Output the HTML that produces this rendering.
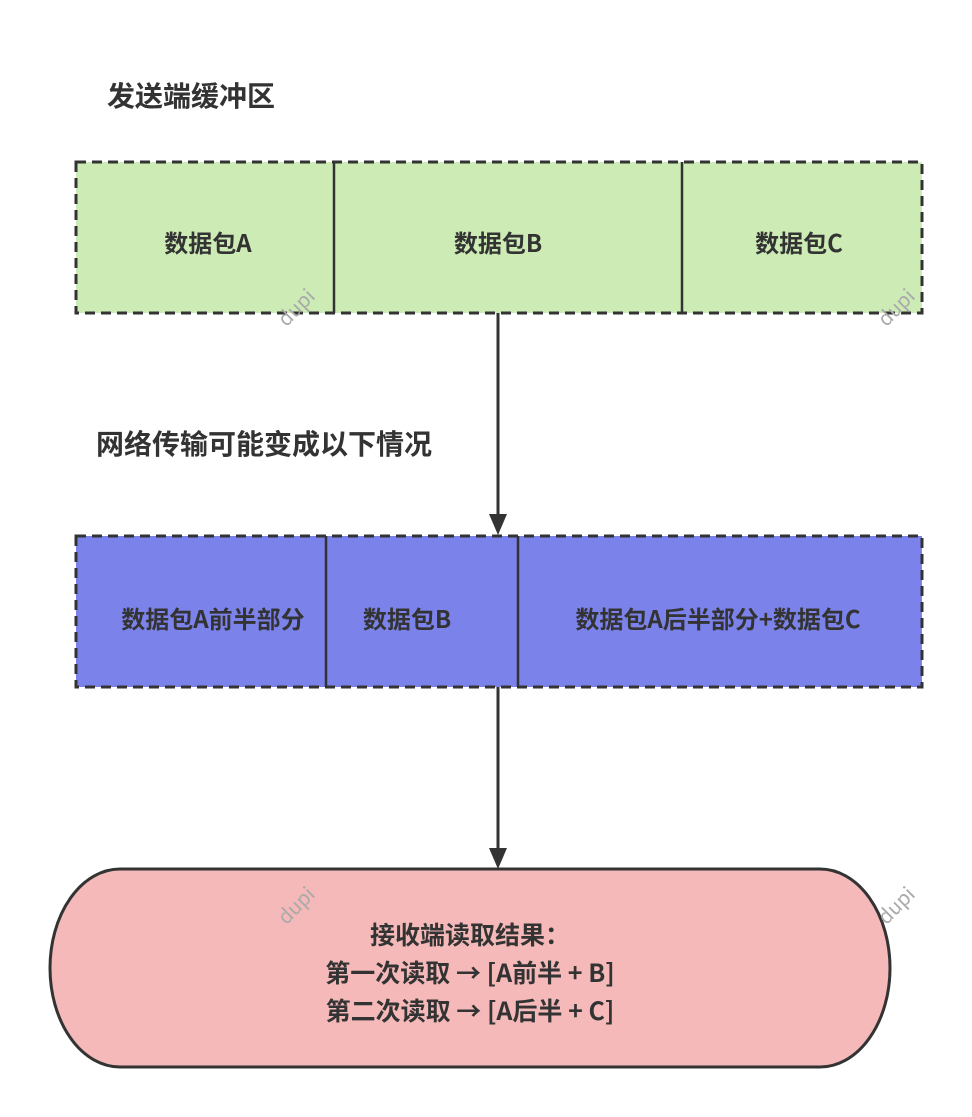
<!DOCTYPE html>
<html><head><meta charset="utf-8"><style>
body{margin:0;width:972px;height:1117px;background:#fff;position:relative;font-family:"Noto Sans CJK SC","Liberation Sans",sans-serif;font-weight:bold;color:#333;overflow:hidden}
.t{position:absolute;font-size:28px;white-space:nowrap;line-height:34px}
.c{position:absolute;font-size:24px;display:flex;align-items:center;justify-content:center;text-align:center;white-space:nowrap}
.wm{position:absolute;font-size:20px;color:#aaa;font-weight:normal;transform:rotate(-45deg)}
</style></head><body>
<svg width="972" height="1117" style="position:absolute;left:0;top:0">
<rect x="76" y="162" width="846" height="151" fill="#cdebb5" stroke="#333" stroke-width="3" stroke-dasharray="10 6"/>
<line x1="334" y1="162" x2="334" y2="313" stroke="#333" stroke-width="2.5"/>
<line x1="682" y1="162" x2="682" y2="313" stroke="#333" stroke-width="2.5"/>
<rect x="76" y="536" width="846" height="151" fill="#7b83eb" stroke="#333" stroke-width="3" stroke-dasharray="10 6"/>
<line x1="326" y1="536" x2="326" y2="687" stroke="#333" stroke-width="2.5"/>
<line x1="518" y1="536" x2="518" y2="687" stroke="#333" stroke-width="2.5"/>
<line x1="498" y1="313" x2="498" y2="516" stroke="#333" stroke-width="3"/>
<polygon points="489,514 507,514 498,535" fill="#333"/>
<line x1="498" y1="687" x2="498" y2="850" stroke="#333" stroke-width="3"/>
<polygon points="489,848 507,848 498,869" fill="#333"/>
<rect x="50" y="869" width="840" height="198" rx="70" ry="100" fill="#f4b9b8" stroke="#333" stroke-width="3"/>
</svg>
<div class="t" style="left:107px;top:78px">发送端缓冲区</div>
<div class="t" style="left:96px;top:426px">网络传输可能变成以下情况</div>
<div class="c" style="left:76px;top:166px;width:264px;height:151px">数据包A</div>
<div class="c" style="left:334px;top:166px;width:328px;height:151px">数据包B</div>
<div class="c" style="left:682px;top:166px;width:234px;height:151px">数据包C</div>
<div class="c" style="left:100px;top:542px;width:226px;height:151px">数据包A前半部分</div>
<div class="c" style="left:326px;top:542px;width:162px;height:151px">数据包B</div>
<div class="c" style="left:518px;top:542px;width:400px;height:151px">数据包A后半部分+数据包C</div>
<div class="c" style="left:50px;top:873px;width:840px;height:198px;line-height:38px;font-size:25px">接收端读取结果：<br>第一次读取 → [A前半 + B]<br>第二次读取 → [A后半 + C]</div>
<div class="wm" style="left:274px;top:292px">dupi</div>
<div class="wm" style="left:874px;top:292px">dupi</div>
<div class="wm" style="left:274px;top:890px">dupi</div>
<div class="wm" style="left:874px;top:890px">dupi</div>
</body></html>
